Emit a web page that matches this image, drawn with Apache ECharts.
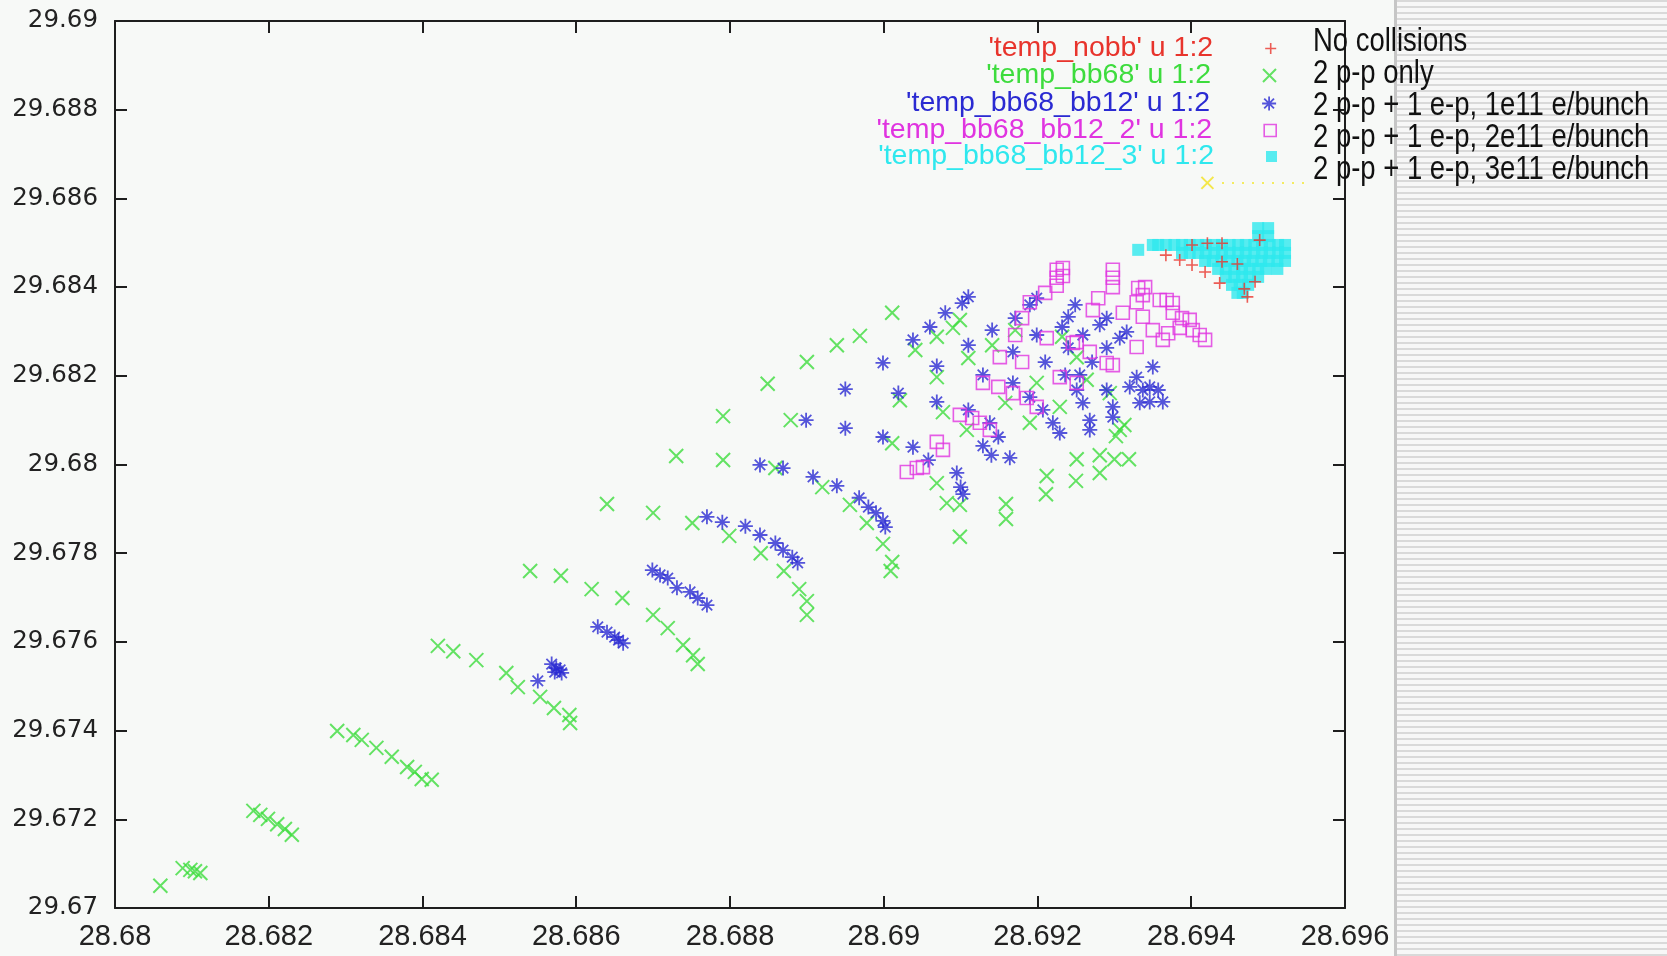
<!DOCTYPE html>
<html>
<head>
<meta charset="utf-8">
<script src="https://cdn.jsdelivr.net/npm/echarts@6/dist/echarts.min.js"></script>
<style>
html,body{margin:0;padding:0;background:#f7f9f7;}
#chart{width:1667px;height:956px;}
</style>
</head>
<body>
<div id="chart"></div>
<script>
// ---------------- data ----------------
const xMin = 28.68, xMax = 28.696, xStep = 0.002;
const yMin = 29.67, yMax = 29.69, yStep = 0.002;
const xTickLabels = ['28.68','28.682','28.684','28.686','28.688','28.69','28.692','28.694','28.696'];
const yTickLabels = ['29.67','29.672','29.674','29.676','29.678','29.68','29.682','29.684','29.686','29.688','29.69'];

const seriesNames = ["'temp_nobb' u 1:2", "'temp_bb68' u 1:2", "'temp_bb68_bb12' u 1:2", "'temp_bb68_bb12_2' u 1:2", "'temp_bb68_bb12_3' u 1:2"];
const captions = ['No collisions', '2 p-p only', '2 p-p + 1 e-p, 1e11 e/bunch', '2 p-p + 1 e-p, 2e11 e/bunch', '2 p-p + 1 e-p, 3e11 e/bunch'];

const nobb = [
[28.69367,29.68472],[28.69385,29.68461],[28.69401,29.68450],[28.69418,29.68434],[28.69440,29.68457],[28.69460,29.68452],
[28.69473,29.68378],[28.69483,29.68412],[28.69401,29.68495],[28.69421,29.68499],[28.69440,29.68499],[28.69489,29.68506],
[28.69437,29.68409],[28.69469,29.68396]
];

const bb68 = [
[28.68059,29.67050],
[28.68088,29.67090],[28.68098,29.67086],[28.68104,29.67083],[28.68111,29.67079],
[28.68180,29.67219],[28.68189,29.67210],[28.68199,29.67201],[28.68211,29.67189],[28.68221,29.67178],[28.68230,29.67165],
[28.68289,29.67399],[28.68310,29.67390],[28.68321,29.67379],[28.68340,29.67361],[28.68360,29.67341],[28.68380,29.67318],[28.68390,29.67307],[28.68399,29.67291],[28.68412,29.67289],
[28.68420,29.67591],[28.68440,29.67579],[28.68470,29.67559],[28.68509,29.67530],[28.68524,29.67498],[28.68553,29.67476],[28.68571,29.67451],[28.68591,29.67435],[28.68592,29.67417],
[28.68540,29.67760],[28.68580,29.67749],[28.68620,29.67719],[28.68660,29.67699],[28.68700,29.67661],[28.68719,29.67631],[28.68739,29.67593],[28.68752,29.67570],[28.68758,29.67550],
[28.68640,29.67911],[28.68700,29.67891],[28.68751,29.67868],[28.68799,29.67839],[28.68840,29.67800],[28.68870,29.67760],[28.68890,29.67719],[28.68900,29.67692],[28.68900,29.67661],
[28.68730,29.68019],[28.68791,29.68010],[28.68859,29.67992],[28.68920,29.67949],[28.68956,29.67909],[28.68978,29.67868],[28.68999,29.67821],[28.69011,29.67780],[28.69009,29.67760],
[28.68791,29.68109],[28.68849,29.68182],[28.68900,29.68231],[28.68939,29.68269],[28.68969,29.68290],
[28.68879,29.68100],[28.69021,29.68145],[28.69011,29.68048],[28.69069,29.67958],[28.69082,29.67913],
[28.69041,29.68258],[28.69069,29.68197],[28.69069,29.68288],[28.69077,29.68118],
[28.69011,29.68342],[28.69099,29.68326],[28.69090,29.68308],[28.69141,29.68269],[28.69110,29.68240],[28.69171,29.68303],
[28.69199,29.68184],[28.69232,29.68288],[28.69251,29.68242],[28.69158,29.68139],[28.69229,29.68130],[28.69190,29.68094],
[28.69294,29.68161],[28.69307,29.68078],[28.69264,29.68191],[28.69108,29.68078],
[28.69099,29.67909],[28.69099,29.67837],[28.69159,29.67911],[28.69159,29.67877],[28.69212,29.67974],[28.69211,29.67933],
[28.69251,29.68012],[28.69250,29.67963],[28.69281,29.68021],[28.69300,29.68012],[28.69319,29.68012],[28.69281,29.67981],
[28.69302,29.68064],[28.69313,29.68089]
];

const bb68_bb12 = [
[28.68550,29.67512],
[28.68568,29.67550],[28.68574,29.67541],[28.68579,29.67537],[28.68572,29.67532],[28.68581,29.67530],
[28.68628,29.67634],[28.68640,29.67622],[28.68650,29.67611],[28.68655,29.67604],[28.68661,29.67597],
[28.68699,29.67762],[28.68709,29.67751],[28.68719,29.67744],[28.68731,29.67722],[28.68748,29.67713],[28.68758,29.67699],[28.68770,29.67683],
[28.68770,29.67882],[28.68790,29.67870],[28.68820,29.67861],[28.68839,29.67841],[28.68859,29.67823],[28.68869,29.67807],[28.68881,29.67791],[28.68888,29.67778],
[28.68839,29.67999],[28.68869,29.67992],[28.68908,29.67972],[28.68939,29.67952],[28.68968,29.67925],[28.68980,29.67904],[28.68990,29.67891],[28.68999,29.67873],[28.69002,29.67859],
[28.68899,29.68100],[28.68950,29.68082],[28.68999,29.68062],[28.69038,29.68039],[28.69058,29.68010],[28.69095,29.67981],[28.69100,29.67949],[28.69103,29.67933],
[28.68950,29.68170],[28.69019,29.68161],[28.69069,29.68141],[28.68999,29.68229],[28.69069,29.68222],[28.69038,29.68281],
[28.69110,29.68378],[28.69102,29.68364],[28.69080,29.68342],[28.69060,29.68310],[28.69110,29.68269],[28.69141,29.68303],
[28.69171,29.68330],[28.69190,29.68360],[28.69199,29.68375],[28.69168,29.68254],[28.69199,29.68292],[28.69232,29.68310],
[28.69249,29.68360],[28.69240,29.68333],[28.69259,29.68292],[28.69240,29.68263],[28.69210,29.68231],[28.69290,29.68330],
[28.69281,29.68315],[28.69316,29.68299],[28.69307,29.68285],[28.69290,29.68263],[28.69271,29.68231],[28.69255,29.68202],
[28.69236,29.68202],[28.69129,29.68202],[28.69168,29.68184],[28.69190,29.68152],[28.69207,29.68123],[28.69220,29.68094],
[28.69229,29.68071],[28.69110,29.68123],[28.69138,29.68094],[28.69149,29.68062],[28.69251,29.68168],[28.69259,29.68139],
[28.69268,29.68100],[28.69268,29.68078],[28.69298,29.68130],[28.69298,29.68107],[28.69290,29.68168],[28.69329,29.68197],
[28.69320,29.68175],[28.69337,29.68168],[28.69350,29.68220],[28.69346,29.68175],[28.69357,29.68168],[28.69333,29.68139],
[28.69346,29.68141],[28.69363,29.68141],[28.69129,29.68042],[28.69140,29.68021],[28.69164,29.68015]
];

const bb68_bb12_2 = [
[28.69030,29.67983],[28.69043,29.67992],[28.69051,29.67994],[28.69069,29.68051],[28.69077,29.68033],
[28.69225,29.68439],[28.69225,29.68421],[28.69225,29.68403],[28.69233,29.68443],[28.69233,29.68425],[28.69210,29.68387],
[28.69190,29.68366],[28.69180,29.68330],[28.69171,29.68292],[28.69151,29.68242],[28.69180,29.68231],[28.69212,29.68285],
[28.69251,29.68276],[28.69272,29.68348],[28.69279,29.68375],[28.69298,29.68421],[28.69298,29.68400],[28.69298,29.68439],
[28.69311,29.68342],[28.69331,29.68398],[28.69340,29.68400],[28.69337,29.68382],[28.69329,29.68366],[28.69337,29.68333],
[28.69350,29.68303],[28.69359,29.68371],[28.69368,29.68371],[28.69376,29.68364],[28.69376,29.68342],[28.69388,29.68330],
[28.69398,29.68326],[28.69385,29.68308],[28.69402,29.68303],[28.69411,29.68292],[28.69418,29.68281],[28.69363,29.68281],
[28.69370,29.68296],[28.69329,29.68265],[28.69290,29.68229],[28.69298,29.68224],[28.69268,29.68254],[28.69246,29.68274],
[28.69229,29.68197],[28.69251,29.68184],[28.69199,29.68130],[28.69186,29.68150],[28.69168,29.68161],[28.69149,29.68175],
[28.69129,29.68184],[28.69099,29.68112],[28.69115,29.68105],[28.69125,29.68094],[28.69138,29.68078]
];

const bb68_bb12_3 = [
[28.69331,29.68484],
[28.69350,29.68495],[28.69357,29.68495],[28.69367,29.68495],[28.69378,29.68495],[28.69388,29.68495],[28.69398,29.68495],
[28.69409,29.68495],[28.69419,29.68495],[28.69430,29.68495],[28.69440,29.68495],[28.69450,29.68495],[28.69461,29.68495],
[28.69471,29.68495],[28.69482,29.68495],[28.69492,29.68495],[28.69502,29.68495],[28.69513,29.68495],[28.69522,29.68495],
[28.69388,29.68477],[28.69398,29.68477],[28.69409,29.68477],[28.69419,29.68477],[28.69430,29.68477],[28.69440,29.68477],
[28.69450,29.68477],[28.69461,29.68477],[28.69471,29.68477],[28.69482,29.68477],[28.69492,29.68477],[28.69502,29.68477],
[28.69513,29.68477],[28.69522,29.68477],
[28.69418,29.68459],[28.69428,29.68459],[28.69439,29.68459],[28.69449,29.68459],[28.69460,29.68459],[28.69470,29.68459],
[28.69480,29.68459],[28.69491,29.68459],[28.69501,29.68459],[28.69512,29.68459],[28.69522,29.68459],
[28.69435,29.68441],[28.69445,29.68441],[28.69456,29.68441],[28.69466,29.68441],[28.69476,29.68441],[28.69487,29.68441],
[28.69497,29.68441],[28.69512,29.68441],
[28.69445,29.68423],[28.69456,29.68423],[28.69466,29.68423],[28.69476,29.68423],[28.69487,29.68423],
[28.69453,29.68405],[28.69463,29.68405],[28.69474,29.68405],
[28.69460,29.68387],[28.69467,29.68387],
[28.69487,29.68533],[28.69500,29.68533],[28.69487,29.68515],[28.69500,29.68515]
];

const yellowPoint = [[28.69421,29.68635]];
const yellowDots = [[28.69440,29.68635],[28.69548,29.68635]];

// ---------------- styles ----------------
const colors = ['#e8342c', '#3ddc3d', '#2a2ad2', '#e034e0', '#2ee8ee'];
const symbols = [
  'path://M5,0L5,10M0,5L10,5',
  'path://M0,0L10,10M10,0L0,10',
  'path://M5,0L5,10M0,5L10,5M1.5,1.5L8.5,8.5M8.5,1.5L1.5,8.5',
  'path://M0,0L10,0L10,10L0,10Z',
  'rect'
];
const symbolSizes = [12, 14, 15, 13, 12];
const itemStyles = [
  {color: colors[0], borderColor: colors[0], borderWidth: 1.6},
  {color: colors[1], borderColor: colors[1], borderWidth: 2},
  {color: colors[2], borderColor: colors[2], borderWidth: 1.8},
  {color: 'rgba(0,0,0,0)', borderColor: colors[3], borderWidth: 1.6},
  {color: colors[4], borderWidth: 0}
];
const dataSets = [nobb, bb68, bb68_bb12, bb68_bb12_2, bb68_bb12_3];
const seriesZ = [6, 2, 3, 4, 5];

const legendRowCenters = [48, 75, 103, 130, 156];
const captionRowCenters = [42, 74, 106, 138, 170];

// stripe pattern for the right panel
const pc = document.createElement('canvas');
pc.width = 8; pc.height = 6;
const pg = pc.getContext('2d');
pg.fillStyle = '#f7f7f7'; pg.fillRect(0, 0, 8, 6);
pg.fillStyle = '#d9d9d9'; pg.fillRect(0, 0, 8, 2);

const chart = echarts.init(document.getElementById('chart'), null, {renderer: 'canvas'});

function axisCommon(min, max, step) {
  return {
    type: 'value', min: min, max: max, interval: step, scale: true,
    axisLine: {show: true, onZero: false, lineStyle: {color: '#1e1e1e', width: 2}},
    axisTick: {show: true, inside: true, length: 12, lineStyle: {color: '#1e1e1e', width: 2}},
    splitLine: {show: false},
    minorTick: {show: false}
  };
}

const series = dataSets.map((d, i) => ({
  name: seriesNames[i],
  type: 'scatter',
  data: d,
  symbol: symbols[i],
  symbolSize: symbolSizes[i],
  itemStyle: itemStyles[i],
  z: seriesZ[i],
  silent: true,
  emphasis: {disabled: true},
  animation: false
}));
series.push({
  name: 'yellow', type: 'scatter', data: yellowPoint, symbol: symbols[1], symbolSize: 12,
  itemStyle: {color: '#f2e21e', borderColor: '#f2e21e', borderWidth: 2}, silent: true, animation: false, z: 7
});
series.push({
  name: 'yellowDots', type: 'line', data: yellowDots, symbol: 'none', silent: true, animation: false, z: 7,
  lineStyle: {color: '#f4ec60', width: 2, type: [2, 8]}
});

const legends = seriesNames.map((n, i) => ({
  data: [{name: n, icon: symbols[i], itemStyle: itemStyles[i]}],
  selectedMode: false,
  orient: 'horizontal',
  align: 'right',
  right: 390,
  top: legendRowCenters[i] - 14,
  padding: 0,
  itemWidth: symbolSizes[i] - 1,
  itemHeight: symbolSizes[i] - 1,
  textStyle: {color: colors[i], fontSize: 28.5, lineHeight: 28, fontFamily: '"Liberation Sans", Arial, sans-serif', padding: [0, 47, 0, 0]}
}));

const graphics = [
  {type: 'rect', z: -5, silent: true, shape: {x: 1396, y: 0, width: 271, height: 956}, style: {fill: {image: pc, repeat: 'repeat'}}},
  {type: 'rect', z: -4, silent: true, shape: {x: 1394, y: 0, width: 3, height: 956}, style: {fill: '#c6c6c6'}}
].concat(captions.map((t, i) => ({
  type: 'text', z: 100, silent: true, x: 1313, y: captionRowCenters[i], scaleX: 0.82,
  style: {text: t, fill: '#111111', fontSize: 33.5, fontFamily: '"Liberation Sans", Arial, sans-serif', verticalAlign: 'middle', align: 'left'}
})));

const option = {
  backgroundColor: '#f7f9f7',
  animation: false,
  grid: {left: 115, top: 21, right: 322, bottom: 48, containLabel: false, show: false},
  xAxis: [
    Object.assign(axisCommon(xMin, xMax, xStep), {
      position: 'bottom',
      axisLabel: {show: true, margin: 14, color: '#222', fontSize: 29, fontFamily: '"Liberation Sans", Arial, sans-serif',
        showMinLabel: true, showMaxLabel: true,
        formatter: v => xTickLabels[Math.round((v - xMin) / xStep)]}
    }),
    Object.assign(axisCommon(xMin, xMax, xStep), {position: 'top', axisLabel: {show: false}})
  ],
  yAxis: [
    Object.assign(axisCommon(yMin, yMax, yStep), {
      position: 'left',
      axisLabel: {show: true, margin: 17, color: '#222', fontSize: 24.5, fontFamily: '"DejaVu Sans", sans-serif',
        showMinLabel: true, showMaxLabel: true,
        formatter: v => yTickLabels[Math.round((v - yMin) / yStep)]}
    }),
    Object.assign(axisCommon(yMin, yMax, yStep), {position: 'right', axisLabel: {show: false}})
  ],
  legend: legends,
  graphic: graphics,
  series: series
};
chart.setOption(option);
</script>
</body>
</html>
